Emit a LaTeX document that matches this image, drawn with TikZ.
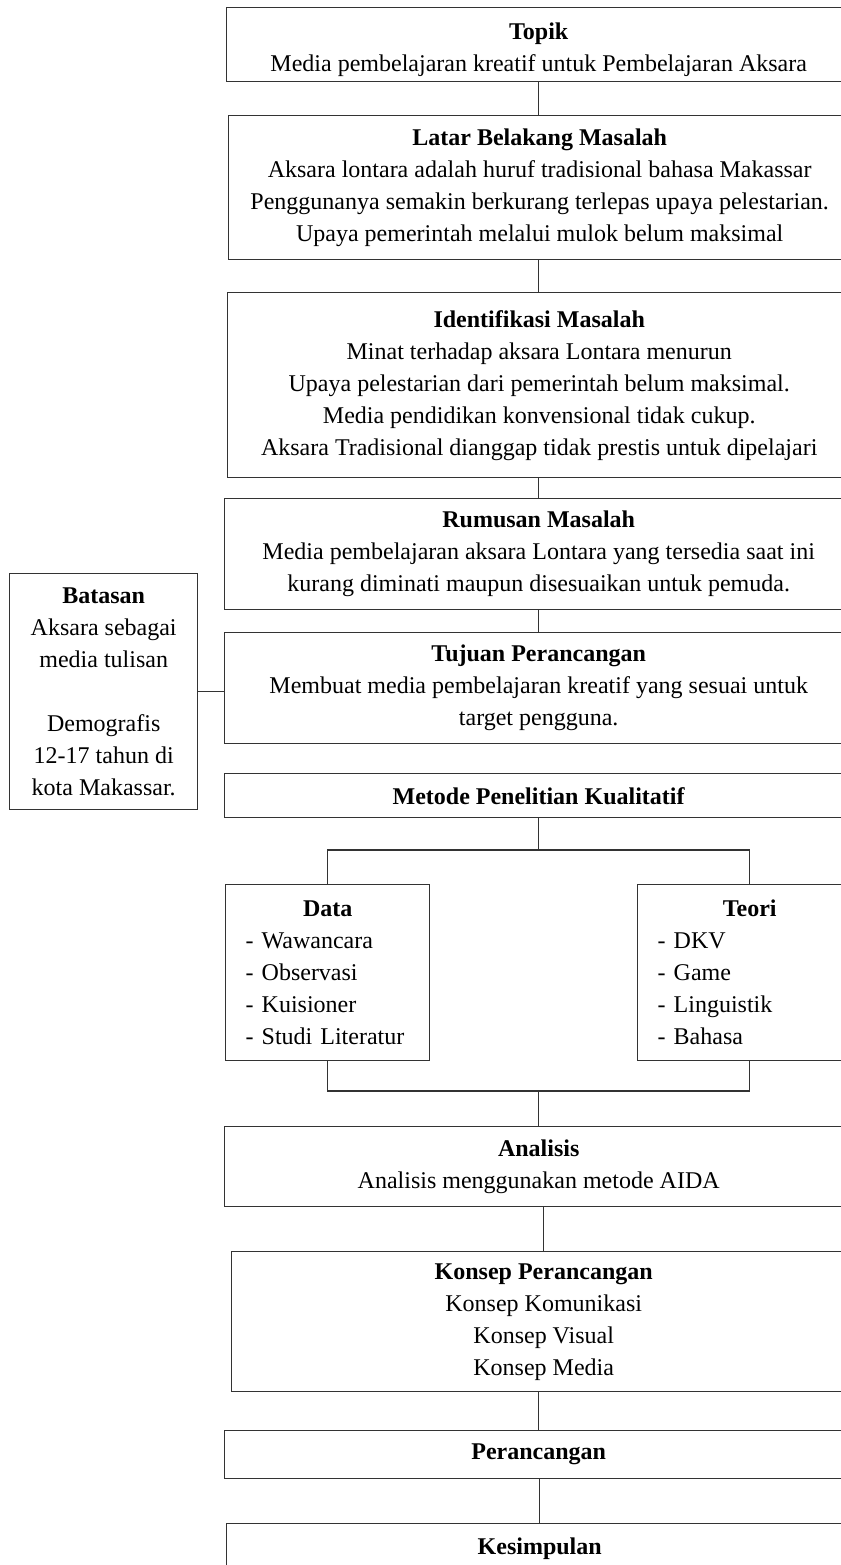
\documentclass[tikz,border=0pt]{standalone}
\usepackage{fontspec}
\setmainfont{Liberation Serif}
\usetikzlibrary{calc}
\tikzset{
  box/.style={draw=black!80, line width=0.7pt, anchor=north west, align=center,
    inner sep=0pt, font=\fontsize{12}{16}\selectfont},
  listbox/.style={box, text width=#1, align=left, inner xsep=10pt},
  conn/.style={draw=black!80, line width=0.7pt}
}
\begin{document}
\begin{tikzpicture}[x=0.5pt, y=-0.5pt]
\useasboundingbox (0,0) rectangle (841,1565);
\clip (0,0) rectangle (841,1565);

\node[box, minimum width=312pt, minimum height=37pt] (topik) at (226,7)
  {\rule{0pt}{13.3pt}\textbf{Topik}\\Media pembelajaran kreatif untuk Pembelajaran Aksara};
\node[box, minimum width=311pt, minimum height=72pt] (latar) at (228,115)
  {\textbf{Latar Belakang Masalah}\\Aksara lontara adalah huruf tradisional bahasa Makassar\\Penggunanya semakin berkurang terlepas upaya pelestarian.\\Upaya pemerintah melalui mulok belum maksimal};
\node[box, minimum width=311.5pt, minimum height=92.5pt] (ident) at (227,292)
  {\textbf{Identifikasi Masalah}\\Minat terhadap aksara Lontara menurun\\Upaya pelestarian dari pemerintah belum maksimal.\\Media pendidikan konvensional tidak cukup.\\Aksara Tradisional dianggap tidak prestis untuk dipelajari};
\node[box, minimum width=314pt, minimum height=55.5pt] (rumusan) at (224,498)
  {\textbf{Rumusan Masalah}\\Media pembelajaran aksara Lontara yang tersedia saat ini\\kurang diminati maupun disesuaikan untuk pemuda.};
\node[box, minimum width=314pt, minimum height=55.5pt] (tujuan) at (224,632)
  {\textbf{Tujuan Perancangan}\\Membuat media pembelajaran kreatif yang sesuai untuk\\target pengguna.};
\node[box, minimum width=94pt, minimum height=118pt] (batasan) at (9,573)
  {\textbf{Batasan}\\Aksara sebagai\\media tulisan\\[16pt]Demografis\\12-17 tahun di\\kota Makassar.};
\node[box, minimum width=314pt, minimum height=22pt] (metode) at (224,773)
  {\textbf{Metode Penelitian Kualitatif}};
\node[listbox=82pt, minimum height=88pt] (data) at (225,884)
  {{\centering\textbf{Data}\par}- Wawancara\\- Observasi\\- Kuisioner\\- Studi Literatur};
\node[listbox=92pt, minimum height=88pt] (teori) at (637,884)
  {{\centering\textbf{Teori}\par}- DKV\\- Game\\- Linguistik\\- Bahasa};
\node[box, minimum width=314pt, minimum height=40pt] (analisis) at (224,1126)
  {\textbf{Analisis}\\Analisis menggunakan metode AIDA};
\node[box, minimum width=312pt, minimum height=70pt] (konsep) at (231,1251)
  {\textbf{Konsep Perancangan}\\Konsep Komunikasi\\Konsep Visual\\Konsep Media};
\node[box, minimum width=314pt, minimum height=24pt] (perancangan) at (224,1430)
  {\textbf{Perancangan}};
\node[box, minimum width=313pt, minimum height=25pt] (kesimpulan) at (226,1523)
  {\textbf{Kesimpulan}};

\coordinate (b1) at (537,850);
\coordinate (b2) at (537,1091);

\draw[conn] (topik.south) -- (topik.south |- latar.north);
\draw[conn] (topik.south |- latar.south) -- (topik.south |- ident.north);
\draw[conn] (rumusan.north |- ident.south) -- (rumusan.north);
\draw[conn] (rumusan.south) -- (rumusan.south |- tujuan.north);
\draw[conn] (batasan.east) -- (batasan.east -| tujuan.west);
\draw[conn] (metode.south) -- (metode.south |- b1);
\draw[conn] (data.north) -- (data.north |- b1) -- (teori.north |- b1) -- (teori.north);
\draw[conn] (data.south) -- (data.south |- b2) -- (teori.south |- b2) -- (teori.south);
\draw[conn] (analisis.north |- b2) -- (analisis.north);
\draw[conn] (konsep.north) -- (konsep.north |- analisis.south);
\draw[conn] (perancangan.north) -- (perancangan.north |- konsep.south);
\draw[conn] (kesimpulan.north) -- (kesimpulan.north |- perancangan.south);
\end{tikzpicture}
\end{document}
